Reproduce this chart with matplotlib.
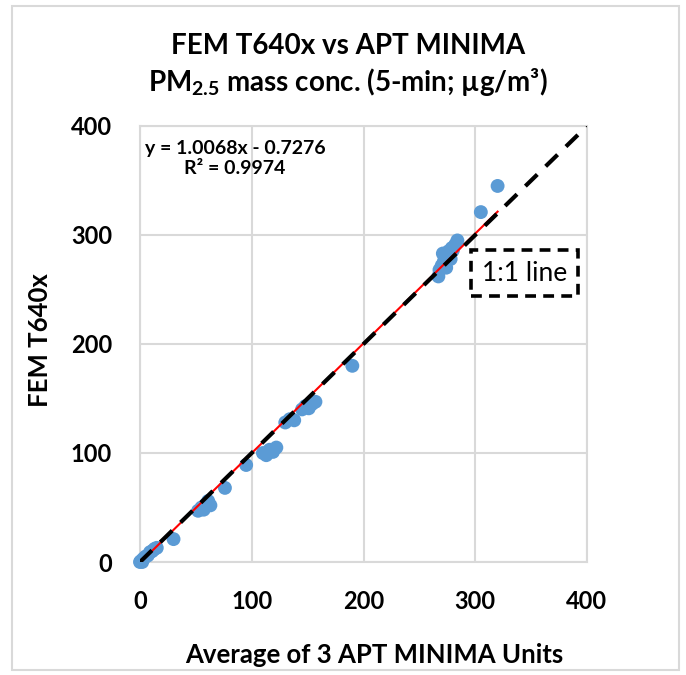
import numpy as np
import matplotlib.pyplot as plt
from matplotlib.patches import Rectangle

plt.rcParams['font.family'] = ['Lato', 'DejaVu Sans']
plt.rcParams['mathtext.fontset'] = 'custom'
plt.rcParams['mathtext.rm'] = 'Lato:bold'
plt.rcParams['mathtext.default'] = 'rm'

# Data: average of 3 APT MINIMA units (x) vs FEM T640x (y), 5-min PM2.5
apt_avg = [0, 1, 2, 3, 5, 7, 9, 11, 13, 15,
           30, 52, 55, 57, 59, 61, 63, 76,
           95, 110, 113, 116, 119, 122, 130, 134, 138,
           145, 148, 151, 154, 157, 190,
           267, 268, 270, 271, 272, 274, 275, 276, 278, 279, 280, 282, 284,
           305, 320]
fem_t640x = [0, 1, 0, 3, 5, 6, 9, 10, 12, 13,
             21, 47, 50, 48, 53, 56, 52, 68,
             89, 100, 98, 103, 101, 105, 128, 131, 130,
             140, 143, 141, 145, 147, 180,
             262, 268, 272, 283, 276, 270, 280, 285, 278, 288, 286, 291, 295,
             321, 345]

slope, intercept, r2 = 1.0068, -0.7276, 0.9974
ticks = [0, 100, 200, 300, 400]

fig = plt.figure(figsize=(6.86, 6.75), dpi=100)
ax = fig.add_axes([140 / 686, 1 - 562 / 675, 447 / 686, 436 / 675])

ax.scatter(apt_avg, fem_t640x, s=100, color="#5B9BD5", edgecolors="none",
           zorder=3, clip_on=False)

xfit = np.array([min(apt_avg), max(apt_avg)])
ax.plot(xfit, slope * xfit + intercept, color="red", lw=1.5, zorder=4)
ax.plot([0, 400], [0, 400], color="black", lw=3, ls=(0, (4, 2.8)), zorder=5)

ax.set_xlim(0, 400)
ax.set_ylim(0, 400)
ax.set_xticks(ticks)
ax.set_yticks(ticks)
ax.tick_params(length=0, labelsize=17, pad=20)
for lab in ax.get_xticklabels() + ax.get_yticklabels():
    lab.set_fontweight("bold")
ax.grid(True, color="#d9d9d9", lw=1.5)
ax.set_axisbelow(True)
for sp in ax.spines.values():
    sp.set_color("#d9d9d9")
    sp.set_linewidth(1.5)

ax.text(85, 370, f"y = {slope}x - {abs(intercept)}\nR² = {r2}", ha="center", va="center",
        fontsize=14, fontweight="bold", linespacing=1.25, zorder=6)

ax.text(344, 265, "1:1 line", ha="center", va="center", fontsize=19, zorder=6,
        bbox=dict(boxstyle="square,pad=0.4", fc="white", ec="black", lw=2.6, ls=(0, (3, 2))))

fig.text(348 / 686, 1 - 46 / 675, "FEM T640x vs APT MINIMA", ha="center", va="center",
         fontsize=20, fontweight="bold")
fig.text(348 / 686, 1 - 82 / 675, "PM$_{2.5}$ mass conc. (5-min; µg/m³)", ha="center",
         va="center", fontsize=20, fontweight="bold")
fig.text(374 / 686, 1 - 655 / 675, "Average of 3 APT MINIMA Units", ha="center", va="center",
         fontsize=18.5, fontweight="bold")
fig.text(40 / 686, 1 - 340 / 675, "FEM T640x", ha="center", va="center", rotation=90,
         fontsize=18.5, fontweight="bold")

fig.patches.append(Rectangle((12 / 686, 1 - 670 / 675), 667 / 686, 664 / 675,
                             transform=fig.transFigure, fill=False, ec="#d9d9d9", lw=1.5))

plt.savefig("out.png", dpi=100)
